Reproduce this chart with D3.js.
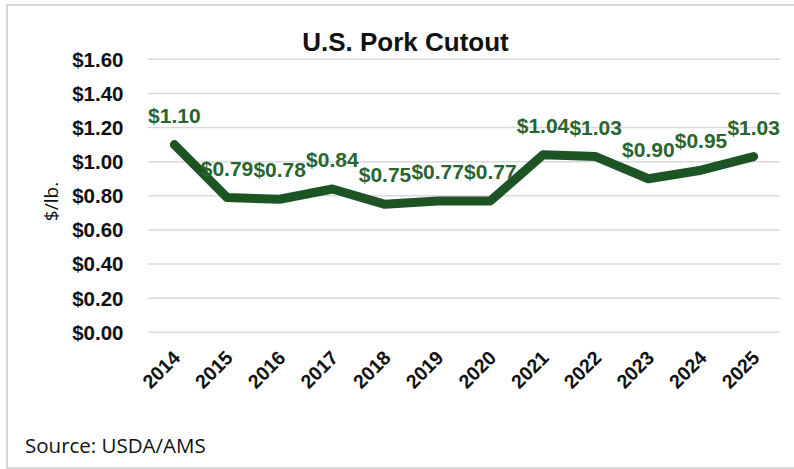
<!DOCTYPE html>
<html>
<head>
<meta charset="utf-8">
<script src="https://cdn.jsdelivr.net/npm/d3@7"></script>
<style>
  html, body { margin: 0; padding: 0; background: #fff; }
  svg { display: block; }
</style>
</head>
<body>
<svg id="chart" width="794" height="469"></svg>
<script>
const years = ["2014","2015","2016","2017","2018","2019","2020","2021","2022","2023","2024","2025"];
const values = [1.10, 0.79, 0.78, 0.84, 0.75, 0.77, 0.77, 1.04, 1.03, 0.90, 0.95, 1.03];
const yTicks = [0, 0.2, 0.4, 0.6, 0.8, 1.0, 1.2, 1.4, 1.6];
const titleText = "U.S. Pork Cutout";
const yAxisTitle = "$/lb.";
const sourceText = "Source: USDA/AMS";

const svg = d3.select("#chart");
const W = 794, H = 469;

// frame
svg.append("rect")
  .attr("x", 7).attr("y", 5)
  .attr("width", W + 10).attr("height", 463)
  .attr("fill", "#fff")
  .attr("stroke", "#d9d9d9").attr("stroke-width", 2);

const x = d3.scaleBand().domain(years).range([148, 780]).padding(0);
const y = d3.scaleLinear().domain([0, 1.6]).range([332.3, 59.3]);

// gridlines
svg.append("g").selectAll("line").data(yTicks).join("line")
  .attr("x1", 148).attr("x2", 780)
  .attr("y1", d => y(d)).attr("y2", d => y(d))
  .attr("stroke", "#d9d9d9").attr("stroke-width", 1.5);

// y axis tick labels
const fmt = d => "$" + d3.format(".2f")(d);
svg.append("g").selectAll("text").data(yTicks).join("text")
  .attr("x", 123.5).attr("y", d => y(d)).attr("dy", "0.36em")
  .attr("text-anchor", "end")
  .attr("font-family", "Liberation Sans, Arial, sans-serif")
  .attr("font-weight", "bold").attr("font-size", 20.5)
  .attr("fill", "#111")
  .text(fmt);

// x axis labels
svg.append("g").selectAll("text").data(years).join("text")
  .attr("transform", d => `translate(${x(d) + x.bandwidth() / 2 + 7},${359}) rotate(-45)`)
  .attr("text-anchor", "end")
  .attr("font-family", "Liberation Sans, Arial, sans-serif")
  .attr("font-weight", "bold").attr("font-size", 19.5)
  .attr("fill", "#111")
  .text(d => d);

// line
const line = d3.line()
  .x((d, i) => x(years[i]) + x.bandwidth() / 2)
  .y(d => y(d));
svg.append("path")
  .datum(values)
  .attr("d", line)
  .attr("fill", "none")
  .attr("stroke", "#1c5424")
  .attr("stroke-width", 9)
  .attr("stroke-linecap", "round")
  .attr("stroke-linejoin", "round");

// data labels
svg.append("g").selectAll("text").data(values).join("text")
  .attr("x", (d, i) => x(years[i]) + x.bandwidth() / 2)
  .attr("y", d => y(d) - 22)
  .attr("text-anchor", "middle")
  .attr("font-family", "Liberation Sans, Arial, sans-serif")
  .attr("font-weight", "bold").attr("font-size", 21)
  .attr("fill", "#2a6430")
  .text(fmt);

// title
svg.append("text")
  .attr("x", 405.5).attr("y", 51)
  .attr("text-anchor", "middle")
  .attr("font-family", "Liberation Sans, Arial, sans-serif")
  .attr("font-weight", "bold").attr("font-size", 26)
  .attr("fill", "#111")
  .text(titleText);

// y axis title
svg.append("text")
  .attr("transform", "translate(58,201.5) rotate(-90)")
  .attr("text-anchor", "middle")
  .attr("font-family", "Open Sans, sans-serif")
  .attr("font-size", 19)
  .attr("fill", "#111")
  .text(yAxisTitle);

// source
svg.append("text")
  .attr("x", 25).attr("y", 453)
  .attr("font-family", "Open Sans, sans-serif")
  .attr("font-size", 20.5)
  .attr("fill", "#111")
  .text(sourceText);
</script>
</body>
</html>
